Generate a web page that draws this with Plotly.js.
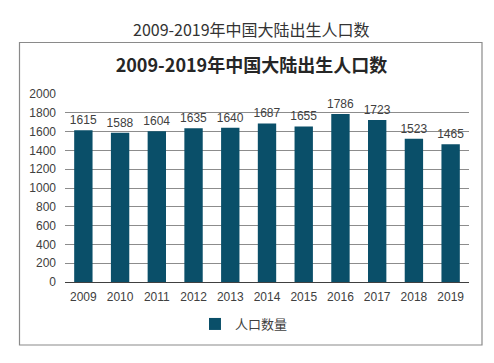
<!DOCTYPE html>
<html>
<head>
<meta charset="utf-8">
<script src="https://cdn.plot.ly/plotly-3.0.1.min.js"></script>
<style>
html,body{margin:0;padding:0;background:#fff;}
#chart{width:494px;height:363px;}
</style>
</head>
<body>
<div id="chart"></div>
<script>
const years = ["2009","2010","2011","2012","2013","2014","2015","2016","2017","2018","2019"];
const births = [1615,1588,1604,1635,1640,1687,1655,1786,1723,1523,1465];
const seriesName = "人口数量";
const chartTitle = "2009-2019年中国大陆出生人口数";
const yTicks = [0,200,400,600,800,1000,1200,1400,1600,1800,2000];

const FONT = "'Liberation Sans', Arial, 'Noto Sans CJK SC', sans-serif";
const CJK = "'Noto Sans CJK SC', 'Liberation Sans', sans-serif";

// plot area in pixels: x 65..469, y 94..282
const L = 65, R = 469, T = 94, B = 282;
const px = x => (x - L) / (R - L);
const py = y => (B - y) / (B - T);

const trace = {
  type: "bar",
  x: years,
  y: births,
  name: seriesName,
  marker: {color: "#0a4f69"},
  text: births.map(String),
  textposition: "outside",
  constraintext: "none",
  textfont: {family: FONT, size: 12, color: "#404040"},
  cliponaxis: false,
  hoverinfo: "x+y"
};

const layout = {
  width: 494, height: 363,
  margin: {l: L, r: 494 - R, t: T, b: 363 - B, pad: 0},
  paper_bgcolor: "#fff",
  plot_bgcolor: "#fff",
  font: {family: FONT, size: 12, color: "#404040"},
  bargap: 0.5,
  uniformtext: {mode: false},
  title: {
    text: "<b>" + chartTitle + "</b>",
    font: {family: CJK, size: 18, color: "#262626"},
    x: 0.509, xanchor: "center",
    y: 1 - 66 / 363, yanchor: "middle"
  },
  xaxis: {
    type: "category",
    showgrid: false,
    showline: true, linecolor: "#404040", linewidth: 1,
    ticks: "", tickfont: {size: 12, color: "#404040"},
    ticklabelstandoff: 4
  },
  yaxis: {
    range: [0, 2000],
    tickvals: yTicks,
    showgrid: true, gridcolor: "#8c8c8c", gridwidth: 1,
    zeroline: false, showline: false,
    ticks: "", tickfont: {size: 12, color: "#404040"},
    ticklabelstandoff: 8
  },
  showlegend: true,
  legend: {
    orientation: "h",
    x: 0.443, xanchor: "center",
    y: py(324), yanchor: "middle",
    font: {family: CJK, size: 13, color: "#404040"},
    itemwidth: 30
  },
  annotations: [{
    text: chartTitle,
    xref: "paper", yref: "paper",
    x: px(251), y: py(29),
    xanchor: "center", yanchor: "middle",
    showarrow: false,
    font: {family: CJK, size: 16, color: "#333"}
  }],
  shapes: [{
    type: "rect", xref: "paper", yref: "paper",
    x0: px(19.5), x1: px(482), y0: py(345), y1: py(42.5),
    line: {color: "#8a8a8a", width: 1.2},
    fillcolor: "rgba(0,0,0,0)",
    layer: "below"
  }]
};

Plotly.newPlot("chart", [trace], layout, {displayModeBar: false, staticPlot: true});
</script>
</body>
</html>
